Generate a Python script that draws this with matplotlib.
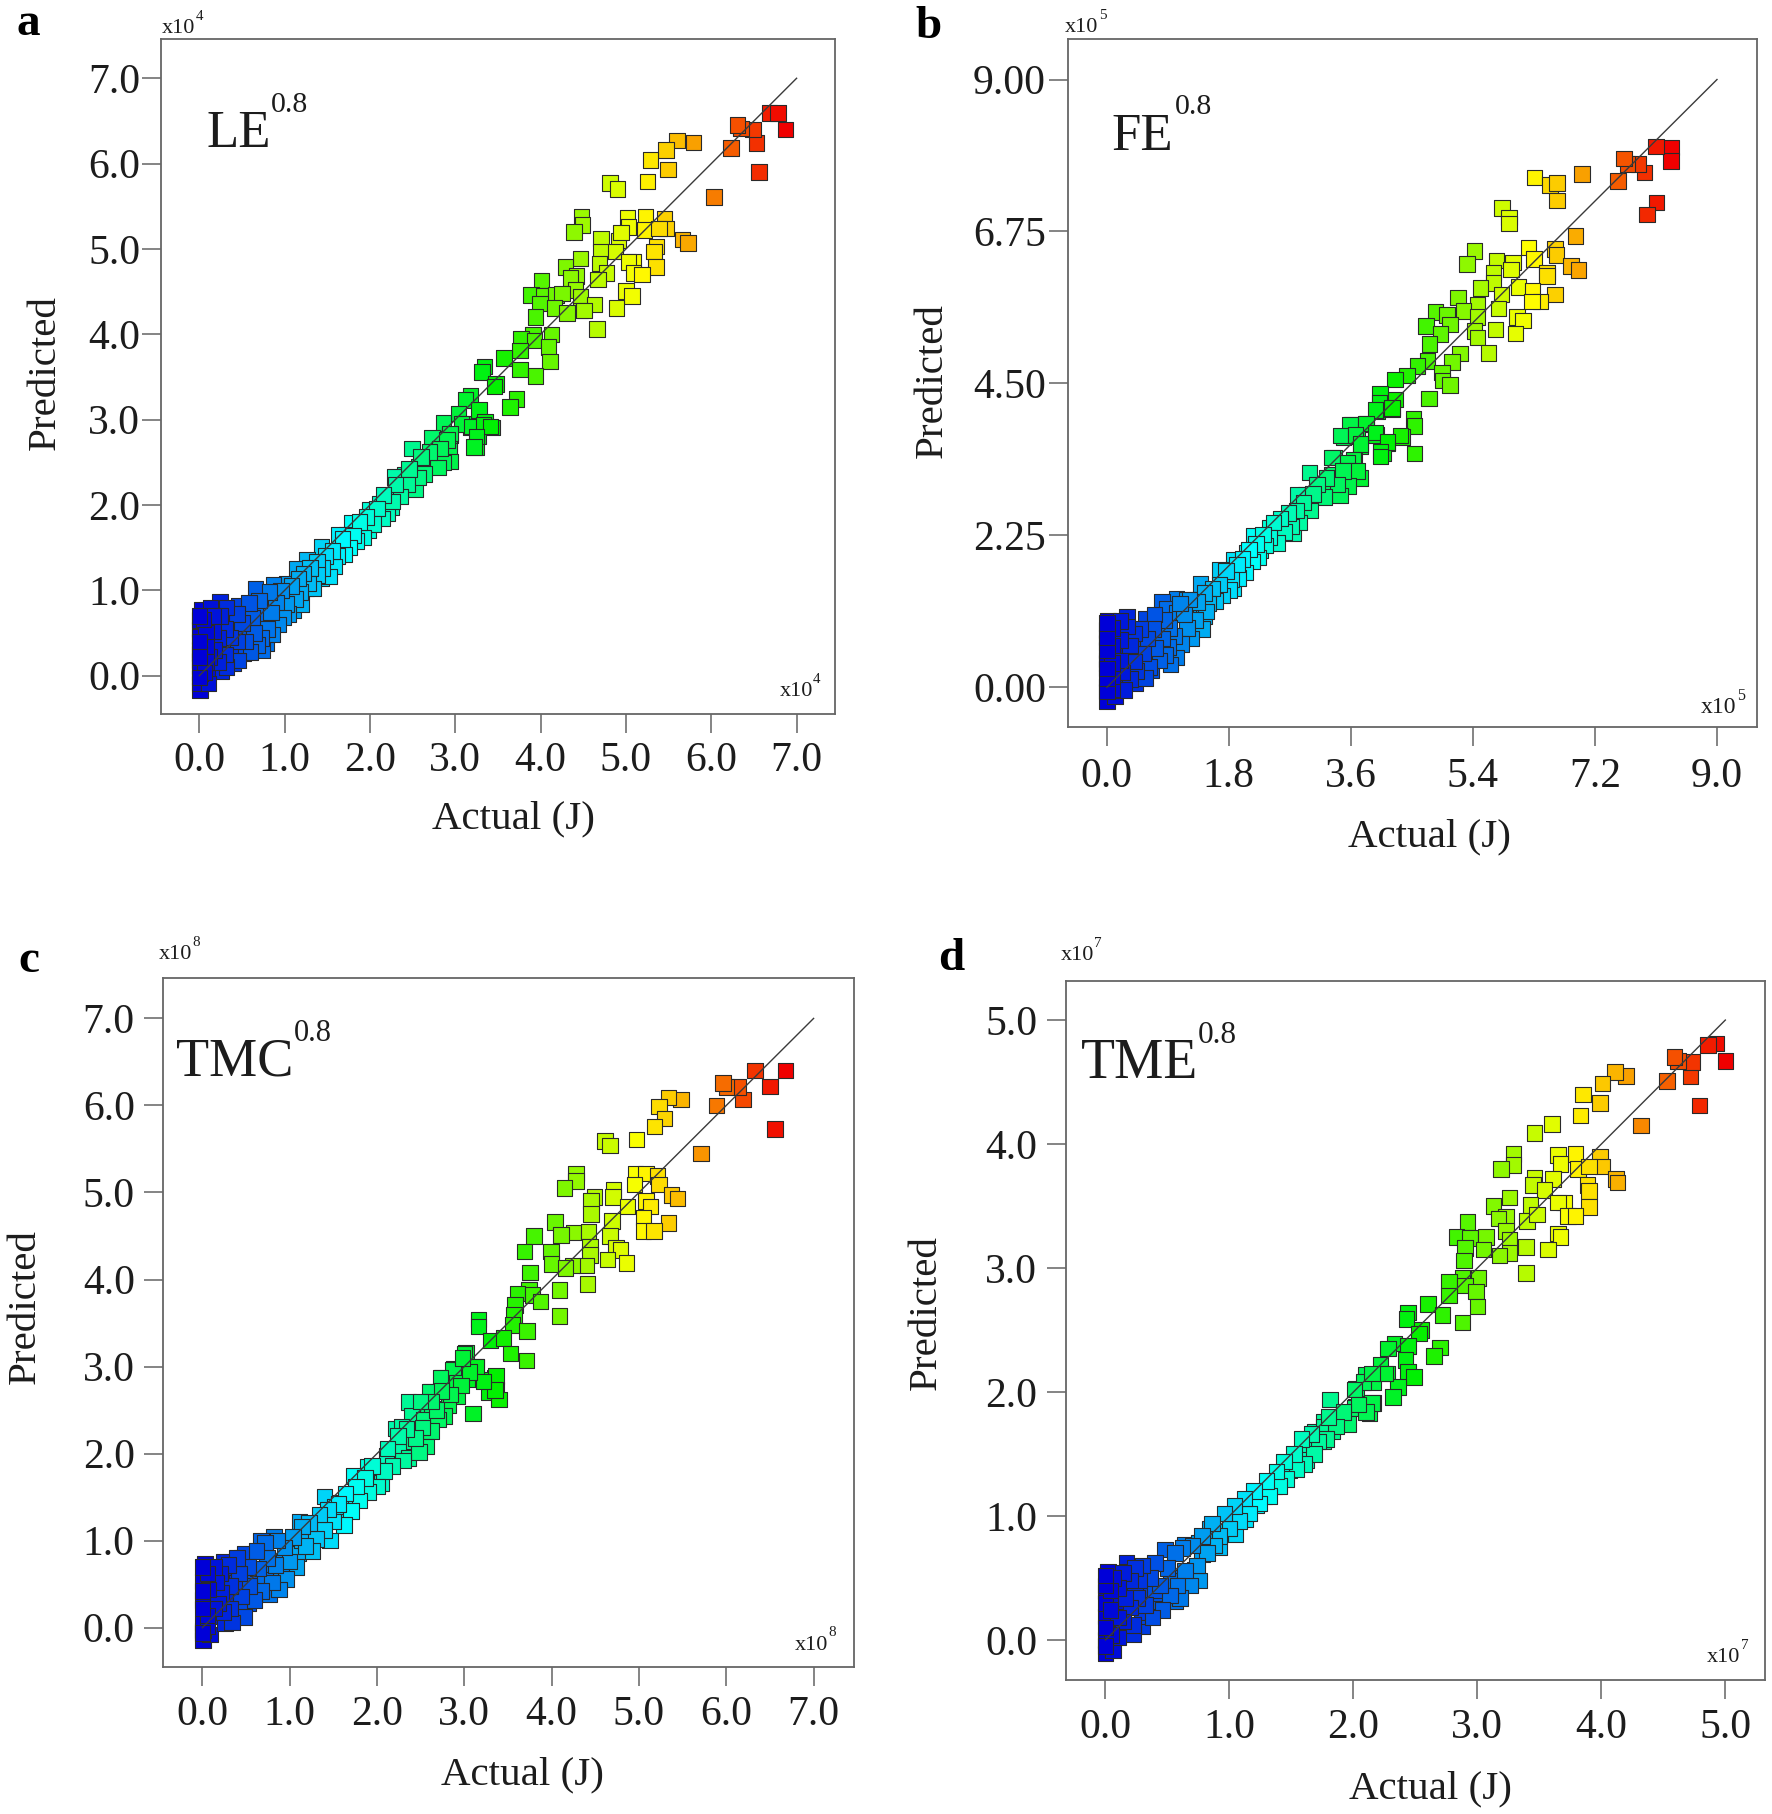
import matplotlib
matplotlib.use('Agg')
import matplotlib.pyplot as plt
from matplotlib.colors import LinearSegmentedColormap

plt.rcParams['font.family'] = ['Liberation Serif', 'DejaVu Serif']

# values, in units of the x10^n label of each panel
a_actual = [6.68, 6.78, 6.87, 6.56, 6.53, 6.49, 6.35, 6.31, 6.23, 6.03, 5.79, 5.60, 5.47, 5.29, 5.49, 5.25, 4.81, 4.90,
            4.48, 4.49, 4.39, 5.02, 5.23, 5.45, 5.03, 5.22, 5.47, 5.39, 5.66, 5.73, 5.36, 5.33, 4.71, 4.91, 4.94, 4.87,
            4.70, 4.69, 4.47, 4.29, 5.35, 5.09, 5.03, 5.09, 5.19, 4.77, 4.67, 4.42, 4.35, 4.01, 4.41, 3.89, 4.04, 4.18,
            4.25, 3.99, 4.16, 4.47, 4.63, 4.47, 4.51, 4.31, 3.94, 5.00, 5.07, 4.89, 4.66, 4.13, 3.91, 3.77, 3.93, 4.09,
            3.76, 3.57, 4.11, 3.76, 3.94, 3.34, 3.31, 3.48, 3.46, 3.72, 3.64, 3.18, 3.12, 3.28, 3.04, 2.86, 3.09, 3.35,
            3.43, 3.18, 3.27, 2.75, 2.94, 2.49, 2.93, 3.24, 3.07, 3.19, 3.33, 3.41, 3.25, 3.22, 2.73, 2.94, 2.75, 2.93,
            2.94, 2.84, 2.57, 2.41, 2.29, 2.40, 2.53, 2.23, 2.25, 2.12, 2.03, 2.20, 2.00, 1.85, 1.79, 1.73, 1.98, 1.65,
            1.73, 1.63, 1.43, 1.53, 1.51, 1.32, 1.26, 1.14, 1.43, 1.25, 1.06, 1.02, 0.87, 0.66, 0.98, 1.10, 1.08, 0.91,
            0.75, 0.46, 0.24, 0.25, 0.03, 0.13, 0.22, 0.00, 0.11, 0.42, 0.36, 0.75, 0.77, 0.59, 0.79, 0.13, 0.28, 0.48,
            0.67, 0.55, 0.71, 0.01, 0.01, 0.40, 0.52, 0.01, 0.16, 0.40, 0.26, 0.00, 0.09, 0.01, 0.01, 0.11, 0.01, 0.00,
            0.00, 0.20, 0.09, 0.59, 0.36]
a_pred = [6.59, 6.59, 6.40, 5.90, 6.24, 6.40, 6.41, 6.45, 6.18, 5.61, 6.25, 6.27, 6.16, 6.04, 5.93, 5.79, 5.77, 5.70,
          5.38, 5.28, 5.20, 5.36, 5.38, 5.35, 5.26, 5.22, 5.24, 5.24, 5.11, 5.07, 5.03, 4.97, 5.12, 5.10, 5.19, 4.97,
          4.97, 4.83, 4.89, 4.79, 4.79, 4.85, 4.85, 4.72, 4.70, 4.72, 4.64, 4.68, 4.66, 4.63, 4.52, 4.46, 4.45, 4.46,
          4.48, 4.36, 4.31, 4.44, 4.35, 4.28, 4.28, 4.25, 4.20, 4.51, 4.45, 4.31, 4.06, 4.00, 3.99, 3.95, 3.93, 3.85,
          3.81, 3.72, 3.68, 3.59, 3.51, 3.62, 3.56, 3.42, 3.39, 3.24, 3.15, 3.28, 3.23, 3.11, 3.07, 2.96, 2.95, 2.97,
          2.91, 2.91, 2.80, 2.78, 2.82, 2.66, 2.67, 2.68, 2.95, 2.92, 2.94, 2.92, 2.80, 2.68, 2.79, 2.84, 2.59, 2.63,
          2.51, 2.51, 2.45, 2.35, 2.33, 2.20, 2.19, 2.10, 1.97, 2.02, 1.86, 1.90, 1.94, 1.70, 1.79, 1.65, 1.71, 1.49,
          1.55, 1.65, 1.51, 1.32, 1.24, 1.19, 1.36, 1.25, 1.14, 1.02, 0.93, 1.08, 1.07, 1.02, 0.77, 0.77, 0.91, 0.63,
          0.87, 0.82, 0.87, 0.77, 0.77, 0.79, 0.61, 0.54, 0.59, 0.53, 0.61, 0.65, 0.46, 0.42, 0.38, 0.42, 0.37, 0.50,
          0.57, 0.73, 0.73, 0.65, 0.46, 0.28, 0.26, 0.18, 0.13, 0.15, 0.05, 0.30, -0.03, -0.17, -0.09, -0.09, 0.03, 0.11,
          0.26, 0.26, 0.26, 0.57, 0.34]
# the crowded low end and band of each panel
a_actual_low = [2.90, 2.86, 2.82, 2.80, 2.70, 2.64, 2.60, 2.56, 2.46, 2.44, 2.36, 2.30, 2.26, 2.16, 2.14, 2.08, 2.04, 1.96,
                1.92, 1.88, 1.84, 1.80, 1.76, 1.70, 1.68, 1.62, 1.58, 1.56, 1.52, 1.48, 1.44, 1.38, 1.38, 1.34, 1.30, 1.28,
                1.22, 1.20, 1.18, 1.16, 1.12, 1.08, 1.04, 1.02, 0.98, 0.96, 0.92, 0.90, 0.86, 0.84, 0.82, 0.80, 0.74, 0.72,
                0.70, 0.68, 0.64, 0.62, 0.60, 0.58, 0.54, 0.50, 0.46, 0.45, 0.44, 0.36, 0.32, 0.32, 0.30, 0.30, 0.24, 0.22,
                0.22, 0.17, 0.16, 0.16, 0.12, 0.08, 0.08, 0.08, 0.06, 0.05, 0.00, 0.00, 0.00, 0.00]
a_pred_low = [2.76, 2.50, 2.66, 2.44, 2.62, 2.36, 2.56, 2.32, 2.42, 2.24, 2.10, 2.24, 2.04, 2.12, 1.84, 1.96, 1.78, 1.86,
              1.62, 1.80, 1.58, 1.64, 1.50, 1.42, 1.60, 1.40, 1.28, 1.46, 1.16, 1.40, 1.26, 1.34, 1.18, 1.02, 1.26, 1.08,
              1.20, 0.84, 0.98, 1.14, 0.90, 1.05, 0.72, 0.84, 0.68, 1.00, 0.60, 0.86, 0.48, 0.74, 0.98, 0.55, 0.30, 0.44,
              0.88, 0.36, 0.50, 0.68, 0.28, 0.85, 0.40, 0.62, 0.18, 0.40, 0.72, 0.45, 0.80, 0.10, 0.55, 0.25, 0.70, 0.44,
              0.16, 0.30, 0.70, 0.52, 0.22, 0.50, 0.34, 0.16, 0.04, 0.66, 0.70, 0.40, 0.22, -0.02]

b_actual = [8.32, 8.32, 8.10, 7.93, 7.84, 7.68, 7.63, 7.54, 8.11, 7.97, 7.01, 6.31, 6.54, 6.64, 6.64, 5.83, 5.93, 5.93,
            6.91, 5.42, 5.31, 6.22, 6.61, 6.63, 6.30, 5.75, 5.99, 5.96, 5.70, 6.85, 6.96, 6.49, 6.49, 6.07, 5.70, 5.51,
            5.18, 5.82, 6.28, 6.61, 6.40, 6.27, 5.47, 5.26, 4.85, 5.02, 5.78, 5.47, 5.06, 4.71, 4.92, 5.73, 5.42, 5.47,
            6.05, 6.14, 6.03, 4.76, 5.63, 5.21, 4.73, 5.09, 4.58, 4.43, 4.94, 4.95, 5.06, 4.25, 4.03, 4.26, 4.75, 4.02,
            3.99, 4.21, 4.52, 4.54, 3.61, 3.83, 3.49, 3.70, 3.97, 4.35, 3.74, 4.14, 3.35, 3.65, 4.07, 4.54, 3.96, 4.21,
            3.59, 3.82, 3.45, 3.67, 3.96, 4.33, 4.14, 3.74, 4.04, 4.04, 3.32, 3.64, 3.55, 2.99, 3.74, 3.57, 3.32, 3.15,
            2.93, 2.81, 3.32, 2.95, 2.76, 2.51, 2.75, 2.61, 2.41, 2.26, 1.99, 2.17, 1.87, 1.76, 1.87, 1.53, 1.38, 1.28,
            1.03, 0.81, 0.57, 0.30, 0.02, 0.30, 0.12, 0.00, 0.52, 0.91, 1.12, 1.30, 0.96, 0.15, 0.34, 0.49, 0.02, 0.20,
            0.00, 0.12, 0.00, 0.64, 0.79, 0.66, 0.42, 0.00, 0.74, 0.89, 1.38, 1.18, 1.67, 2.07, 0.84, 1.03, 1.43, 0.00,
            0.00]
b_pred = [7.99, 7.79, 8.01, 7.62, 7.75, 7.75, 7.83, 7.50, 7.18, 7.00, 7.60, 7.55, 7.44, 7.47, 7.21, 7.10, 6.96, 6.87,
          6.68, 6.46, 6.27, 6.51, 6.49, 6.40, 6.34, 6.32, 6.29, 6.19, 6.14, 6.24, 6.18, 6.14, 6.09, 5.93, 5.99, 5.91,
          5.77, 5.82, 5.87, 5.82, 5.71, 5.71, 5.67, 5.57, 5.56, 5.51, 5.61, 5.48, 5.37, 5.35, 5.23, 5.30, 5.28, 5.18,
          5.48, 5.43, 5.24, 5.08, 4.95, 4.94, 4.83, 4.82, 4.76, 4.62, 4.66, 4.54, 4.48, 4.56, 4.34, 4.26, 4.28, 4.21,
          4.09, 4.12, 3.97, 3.87, 3.89, 3.90, 3.71, 3.72, 3.74, 3.71, 3.57, 3.61, 3.40, 3.35, 3.46, 3.46, 4.11, 4.14,
          3.89, 3.91, 3.73, 3.74, 3.77, 3.73, 3.63, 3.60, 3.49, 3.42, 3.40, 3.37, 3.32, 3.18, 3.10, 3.21, 3.15, 2.96,
          2.85, 2.85, 2.90, 2.63, 2.56, 2.26, 2.28, 2.48, 2.36, 2.03, 1.77, 2.24, 1.89, 1.57, 1.47, 1.37, 1.53, 1.09,
          1.31, 1.27, 1.01, 1.05, 0.98, 0.76, 0.78, 0.66, 0.63, 0.83, 0.75, 0.90, 0.48, 0.51, 0.46, 0.29, 0.21, 0.09,
          -0.21, -0.13, 0.01, 0.41, 0.56, 0.26, 0.06, 0.36, 1.00, 1.17, 1.20, 1.30, 1.74, 1.99, 0.76, 1.10, 1.05, 0.85,
          0.41]
b_actual_low = [3.70, 3.56, 3.48, 3.44, 3.40, 3.24, 3.20, 3.10, 3.04, 3.00, 2.90, 2.84, 2.80, 2.72, 2.68, 2.62, 2.56, 2.52,
                2.46, 2.40, 2.34, 2.30, 2.24, 2.20, 2.14, 2.10, 2.04, 2.00, 1.94, 1.92, 1.84, 1.80, 1.76, 1.70, 1.66, 1.60,
                1.56, 1.50, 1.46, 1.44, 1.40, 1.34, 1.30, 1.24, 1.22, 1.18, 1.14, 1.10, 1.08, 1.02, 1.00, 0.94, 0.92, 0.90,
                0.86, 0.84, 0.82, 0.78, 0.72, 0.70, 0.68, 0.62, 0.60, 0.56, 0.54, 0.50, 0.44, 0.40, 0.40, 0.34, 0.34, 0.30,
                0.25, 0.22, 0.20, 0.20, 0.20, 0.08, 0.08, 0.08, 0.08, 0.08, 0.00, 0.00, 0.00, 0.00, 0.00, 0.00]
b_pred_low = [3.20, 2.98, 3.20, 2.84, 3.00, 3.10, 2.82, 3.00, 2.86, 2.62, 2.74, 2.44, 2.62, 2.38, 2.58, 2.30, 2.50, 2.14,
              2.44, 2.22, 2.10, 2.26, 1.92, 2.12, 1.86, 2.04, 1.70, 1.90, 1.62, 1.82, 1.60, 1.44, 1.72, 1.36, 1.52, 1.28,
              1.46, 1.24, 1.12, 1.40, 0.86, 1.26, 1.00, 0.72, 1.30, 0.88, 1.08, 0.64, 1.24, 0.44, 0.76, 0.34, 0.88, 0.60,
              0.48, 1.00, 0.72, 0.40, 0.58, 1.08, 0.86, 0.30, 0.72, 0.14, 0.50, 0.86, 0.24, 0.38, 0.80, 0.12, 0.62, 0.90,
              -0.04, 0.22, 0.40, 0.70, 0.98, -0.03, 0.16, 0.36, 0.62, 0.88, -0.06, 0.14, 0.28, 0.55, 0.74, 0.95]

c_actual = [6.68, 6.50, 6.33, 6.19, 6.14, 6.00, 5.96, 5.89, 6.56, 5.71, 5.48, 5.34, 5.23, 5.29, 5.18, 4.97, 4.61, 4.67,
            4.28, 4.28, 4.15, 4.96, 5.08, 5.21, 4.95, 5.23, 5.37, 5.44, 4.71, 4.70, 4.49, 4.45, 5.08, 5.13, 4.87, 4.45,
            4.69, 5.05, 5.34, 5.05, 5.17, 4.04, 4.25, 4.42, 4.11, 4.67, 3.80, 3.69, 3.99, 4.74, 4.79, 4.44, 4.44, 4.64,
            4.86, 4.00, 4.40, 4.24, 4.16, 3.75, 4.41, 4.09, 3.74, 3.61, 3.78, 3.87, 3.58, 3.57, 4.09, 3.16, 3.16, 3.55,
            3.72, 3.30, 3.45, 3.02, 3.00, 3.53, 3.71, 3.14, 2.88, 2.74, 3.35, 2.92, 3.11, 3.21, 3.37, 3.28, 2.62, 3.40,
            2.92, 2.36, 2.82, 2.58, 3.10, 2.40, 2.77, 3.36, 3.35, 2.87, 2.73, 2.61, 3.14, 3.22, 2.91, 2.63, 2.54, 2.70,
            2.38, 2.24, 2.36, 2.11, 2.21, 2.28, 2.03, 1.90, 1.83, 2.05, 1.71, 1.58, 1.52, 1.73, 1.40, 1.27, 1.21, 1.11,
            1.00, 0.93, 0.82, 0.67, 0.45, 0.24, 0.03, 0.24, 0.11, 0.00, 0.39, 0.76, 0.90, 0.13, 0.56, 0.77, 0.26, 0.39,
            0.16, 0.03, 0.01, 0.09, 0.01, 0.26, 0.00, 0.60, 1.10, 1.14, 1.52, 0.72, 0.53, 0.47, 0.00, 0.49]
c_pred = [6.40, 6.22, 6.40, 6.07, 6.21, 6.21, 6.26, 6.00, 5.73, 5.45, 6.07, 6.09, 5.99, 5.85, 5.76, 5.61, 5.59, 5.54,
          5.22, 5.13, 5.05, 5.22, 5.22, 5.19, 5.09, 5.09, 4.97, 4.93, 5.03, 4.95, 4.95, 4.90, 4.90, 4.84, 4.84, 4.75,
          4.67, 4.71, 4.65, 4.56, 4.56, 4.66, 4.54, 4.55, 4.51, 4.50, 4.50, 4.32, 4.32, 4.37, 4.34, 4.38, 4.28, 4.23,
          4.19, 4.18, 4.16, 4.16, 4.13, 4.08, 3.95, 3.88, 3.88, 3.84, 3.82, 3.75, 3.71, 3.59, 3.58, 3.54, 3.46, 3.48,
          3.41, 3.30, 3.33, 3.16, 3.15, 3.15, 3.07, 3.00, 2.97, 2.87, 2.87, 2.87, 2.85, 2.85, 2.73, 2.71, 2.71, 2.62,
          2.66, 2.59, 2.56, 2.52, 2.46, 2.43, 2.43, 2.89, 2.73, 2.96, 2.87, 2.71, 3.00, 2.83, 2.81, 2.52, 2.39, 2.39,
          2.14, 2.05, 1.95, 1.97, 2.29, 2.31, 1.80, 1.85, 1.66, 1.66, 1.51, 1.44, 1.29, 1.74, 1.51, 1.16, 1.01, 1.22,
          0.91, 0.76, 1.05, 1.00, 0.80, 0.76, 0.74, 0.62, 0.61, 0.53, 0.52, 0.68, 0.62, 0.41, 0.39, 0.39, 0.38, 0.15,
          0.13, 0.18, -0.14, -0.08, -0.03, 0.05, 0.32, 0.55, 0.85, 1.01, 1.39, 0.55, 0.28, 0.24, 0.05, 0.85]
c_actual_low = [3.06, 2.98, 2.96, 2.84, 2.74, 2.68, 2.62, 2.62, 2.56, 2.52, 2.50, 2.48, 2.44, 2.34, 2.30, 2.24, 2.18, 2.12,
                2.08, 2.00, 1.94, 1.90, 1.86, 1.80, 1.76, 1.70, 1.64, 1.62, 1.56, 1.50, 1.46, 1.44, 1.40, 1.34, 1.30, 1.26,
                1.22, 1.18, 1.14, 1.08, 1.04, 1.00, 0.96, 0.94, 0.88, 0.86, 0.84, 0.80, 0.74, 0.72, 0.68, 0.64, 0.62, 0.60,
                0.54, 0.52, 0.48, 0.44, 0.42, 0.40, 0.34, 0.32, 0.32, 0.30, 0.24, 0.22, 0.20, 0.18, 0.16, 0.14, 0.14, 0.07,
                0.06, 0.06, 0.06, 0.00, 0.00, 0.00, 0.00]
c_pred_low = [2.94, 3.10, 2.78, 2.68, 2.72, 2.50, 2.26, 2.60, 2.08, 2.30, 2.60, 2.02, 2.18, 2.28, 1.92, 2.20, 1.86, 2.06,
              1.80, 1.62, 1.86, 1.56, 1.72, 1.46, 1.62, 1.34, 1.54, 1.18, 1.42, 1.22, 1.00, 1.36, 1.12, 1.30, 1.02, 0.88,
              1.20, 0.94, 1.16, 0.70, 1.04, 0.76, 0.56, 0.92, 0.44, 1.00, 0.72, 0.52, 0.80, 0.98, 0.42, 0.68, 0.88, 0.32,
              0.48, 0.70, 0.12, 0.36, 0.62, 0.80, 0.06, 0.22, 0.48, 0.72, 0.18, 0.40, 0.62, 0.28, 0.52, 0.22, 0.70, 0.44,
              0.02, 0.14, 0.62, -0.06, 0.22, 0.42, 0.70]

d_actual = [5.00, 4.93, 4.86, 4.79, 4.72, 4.73, 4.62, 4.59, 4.53, 4.32, 4.20, 4.11, 4.01, 3.85, 3.99, 3.83, 3.60, 3.46,
            3.29, 3.29, 3.19, 3.65, 3.79, 3.99, 3.67, 3.81, 4.01, 3.90, 4.12, 4.13, 3.89, 3.90, 3.90, 3.46, 3.61, 3.45,
            3.54, 3.26, 3.13, 3.43, 3.70, 3.65, 3.73, 3.79, 3.23, 3.17, 3.40, 3.48, 2.92, 2.83, 2.94, 3.07, 3.23, 3.26,
            3.65, 3.67, 3.39, 2.90, 3.05, 3.26, 3.18, 3.57, 2.89, 3.39, 3.01, 2.88, 2.77, 2.90, 2.99, 2.77, 3.00, 2.60,
            2.72, 2.88, 2.44, 2.43, 2.55, 2.53, 2.70, 2.65, 2.33, 2.28, 2.44, 2.22, 2.42, 2.10, 2.27, 2.44, 2.49, 2.16,
            2.36, 2.02, 2.32, 2.16, 2.02, 1.81, 2.13, 1.87, 1.76, 1.69, 1.83, 2.26, 2.08, 2.15, 2.01, 2.15, 1.88, 2.01,
            1.76, 1.76, 1.61, 1.62, 1.48, 1.36, 1.28, 1.22, 1.13, 0.96, 0.84, 0.92, 0.78, 0.64, 0.48, 0.72, 0.66, 0.55,
            0.34, 0.17, 0.02, 0.18, 0.00, 0.17, 0.30, 0.09, 0.44, 0.56, 0.30, 0.02, 0.13, 0.00, 0.06, 0.00, 0.00, 0.00,
            0.34, 0.29, 0.53, 1.05, 0.75, 0.80, 1.14, 0.42, 0.22, 0.40, 0.24, 1.42]
d_pred = [4.67, 4.81, 4.80, 4.31, 4.55, 4.66, 4.67, 4.70, 4.51, 4.15, 4.55, 4.58, 4.49, 4.40, 4.33, 4.23, 4.16, 4.09,
          3.92, 3.83, 3.80, 3.91, 3.92, 3.90, 3.84, 3.80, 3.82, 3.82, 3.72, 3.69, 3.67, 3.62, 3.49, 3.73, 3.72, 3.67,
          3.63, 3.57, 3.50, 3.51, 3.53, 3.53, 3.42, 3.42, 3.41, 3.40, 3.38, 3.43, 3.37, 3.25, 3.24, 3.25, 3.30, 3.23,
          3.28, 3.25, 3.17, 3.16, 3.15, 3.12, 3.10, 3.15, 3.06, 2.96, 2.92, 2.92, 2.89, 2.86, 2.81, 2.78, 2.69, 2.71,
          2.62, 2.56, 2.64, 2.59, 2.50, 2.47, 2.36, 2.29, 2.39, 2.35, 2.37, 2.22, 2.26, 2.14, 2.15, 2.16, 2.12, 2.08,
          2.04, 2.03, 1.96, 1.91, 1.88, 1.94, 1.83, 1.79, 1.76, 1.68, 1.68, 2.15, 2.08, 2.15, 1.87, 1.91, 1.79, 2.02,
          1.72, 1.60, 1.53, 1.45, 1.37, 1.24, 1.16, 1.09, 0.97, 0.87, 0.90, 0.75, 0.69, 0.77, 0.73, 0.57, 0.46, 0.50,
          0.59, 0.62, 0.55, 0.55, 0.39, 0.44, 0.39, 0.31, 0.30, 0.31, 0.11, 0.12, 0.09, -0.11, -0.08, 0.00, 0.19, 0.30,
          0.19, 0.22, 0.48, 0.85, 0.78, 0.83, 1.05, 0.38, 0.05, 0.40, 0.38, 1.34]
d_actual_low = [2.10, 2.04, 1.96, 1.92, 1.86, 1.80, 1.78, 1.72, 1.68, 1.66, 1.60, 1.58, 1.54, 1.52, 1.46, 1.44, 1.40, 1.38,
                1.32, 1.30, 1.24, 1.20, 1.16, 1.12, 1.08, 1.04, 1.00, 0.96, 0.92, 0.88, 0.86, 0.82, 0.78, 0.76, 0.74, 0.70,
                0.68, 0.64, 0.62, 0.60, 0.58, 0.56, 0.52, 0.50, 0.46, 0.44, 0.40, 0.38, 0.36, 0.32, 0.30, 0.27, 0.26, 0.24,
                0.22, 0.20, 0.20, 0.16, 0.14, 0.14, 0.10, 0.10, 0.10, 0.06, 0.05, 0.04, 0.04, 0.00, 0.00, 0.00, 0.00]
d_pred_low = [1.84, 1.90, 1.74, 1.84, 1.72, 1.80, 1.62, 1.60, 1.50, 1.66, 1.42, 1.62, 1.38, 1.50, 1.30, 1.44, 1.24, 1.36,
              1.16, 1.28, 1.10, 1.20, 1.02, 1.14, 0.96, 1.08, 0.90, 1.02, 0.84, 0.76, 0.94, 0.70, 0.84, 0.48, 0.60, 0.76,
              0.44, 0.56, 0.74, 0.34, 0.44, 0.70, 0.36, 0.58, 0.24, 0.44, 0.62, 0.18, 0.50, 0.28, 0.60, 0.48, 0.34, 0.58,
              0.12, 0.26, 0.48, 0.34, 0.15, 0.54, 0.02, 0.18, 0.42, 0.50, 0.04, 0.24, 0.40, -0.05, 0.10, 0.44, 0.52]

a_xticks = [0, 1, 2, 3, 4, 5, 6, 7]
a_yticks = [0, 1, 2, 3, 4, 5, 6, 7]
b_xticks = [0, 1.8, 3.6, 5.4, 7.2, 9.0]
b_yticks = [0, 2.25, 4.5, 6.75, 9.0]
c_xticks = [0, 1, 2, 3, 4, 5, 6, 7]
c_yticks = [0, 1, 2, 3, 4, 5, 6, 7]
d_xticks = [0, 1, 2, 3, 4, 5]
d_yticks = [0, 1, 2, 3, 4, 5]

W, H = 1772, 1814
fig = plt.figure(figsize=(W / 100, H / 100), dpi=100, facecolor='white')
rainbow = LinearSegmentedColormap.from_list('rb', ['#0000d8', '#00ffff', '#00f000', '#ffff00', '#f00000'])
DARK = '#1c1c1c'


def px_text(x, y, s, size, **kw):
    kw.setdefault('ha', 'left')
    kw.setdefault('va', 'baseline')
    kw.setdefault('color', DARK)
    fig.text(x / W, 1 - y / H, s, fontsize=size, **kw)


def power_label(x, y, exp, size):
    px_text(x, y, 'x10', size)
    px_text(x + size * 2.1, y - 13, exp, size * 0.68)


def panel(box, xlim, ylim, xs, ys, xticks, yticks, yfmt, line_end, vmax, xpad, ypad):
    left, right, top, bottom = box
    ax = fig.add_axes([left / W, 1 - bottom / H, (right - left) / W, (bottom - top) / H])
    ax.scatter(xs, ys, c=xs, cmap=rainbow, vmin=0, vmax=vmax, marker='s', s=125,
               edgecolors='#2a2a2a', linewidths=0.8, zorder=2, clip_on=False)
    ax.plot([0, line_end], [0, line_end], color='#3a3a3a', lw=1.0, zorder=3)
    ax.set_xlim(xlim)
    ax.set_ylim(ylim)
    ax.set_xticks(xticks)
    ax.set_xticklabels(['%.1f' % t for t in xticks])
    ax.set_yticks(yticks)
    ax.set_yticklabels([yfmt % t for t in yticks])
    ax.tick_params(axis='both', length=13.5, width=1.2, color='#707070', labelsize=30, labelcolor=DARK)
    ax.tick_params(axis='x', pad=xpad)
    ax.tick_params(axis='y', pad=ypad)
    for sp in ax.spines.values():
        sp.set_color('#666666')
        sp.set_linewidth(1.3)
    return ax


panel((161, 835, 39, 714), (-0.449, 7.45), (-0.449, 7.46), a_actual + a_actual_low, a_pred + a_pred_low,
      a_xticks, a_yticks, '%.1f', 7.0, 6.87, 6, 1.5)
panel((1067.5, 1757, 39, 726.5), (-0.58, 9.59), (-0.58, 9.6), b_actual + b_actual_low, b_pred + b_pred_low,
      b_xticks, b_yticks, '%.2f', 9.0, 8.32, 8.5, 2)
panel((163.3, 853.6, 977.5, 1667.3), (-0.447, 7.458), (-0.455, 7.47), c_actual + c_actual_low, c_pred + c_pred_low,
      c_xticks, c_yticks, '%.1f', 7.0, 6.68, 7, 7)
panel((1065.7, 1765, 981, 1679.5), (-0.321, 5.32), (-0.319, 5.315), d_actual + d_actual_low, d_pred + d_pred_low,
      d_xticks, d_yticks, '%.1f', 5.0, 5.0, 7.5, 7)

# panel letters
for x, y, s in [(28, 35, 'a'), (929, 38, 'b'), (29, 972, 'c'), (951, 970, 'd')]:
    px_text(x, y, s, 34, fontweight='bold', ha='center', color='black')

# axis names
for x, y in [(513.6, 818.5), (1429.7, 837), (522.8, 1775), (1430.9, 1789)]:
    px_text(x, y, 'Actual (J)', 29.5, ha='center', va='center')
for x, y in [(44.8, 372.6), (932, 380.7), (25, 1307), (926, 1313)]:
    px_text(x, y, 'Predicted', 29.5, ha='center', va='center', rotation=90)

# response names with the 0.8 power
px_text(206, 147, 'LE', 38)
px_text(270.7, 112, '0.8', 21.5)
px_text(1111.6, 149.5, 'FE', 38)
px_text(1175, 114.5, '0.8', 21.5)
px_text(176, 1076, 'TMC', 39)
px_text(294, 1041, '0.8', 22)
px_text(1080.7, 1078.5, 'TME', 40)
px_text(1198, 1043, '0.8', 22.5)

# scale labels
power_label(162, 33, '4', 16)
power_label(779.6, 696, '4', 16)
power_label(1065, 32, '5', 16)
power_label(1701, 712.7, '5', 17)
power_label(158.5, 959, '8', 16)
power_label(794.7, 1649.5, '8', 16)
power_label(1060.7, 960, '7', 16)
power_label(1707, 1662, '7', 16)

fig.savefig('out.png', dpi=100)
